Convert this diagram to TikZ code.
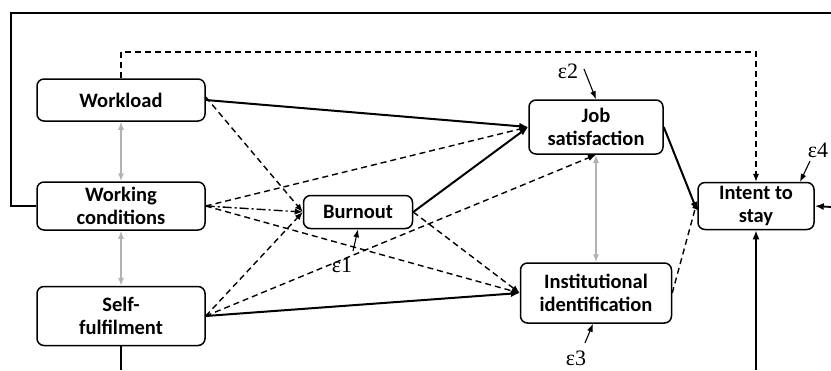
\documentclass[tikz,border=0pt]{standalone}
\usepackage{fontspec}
\setsansfont{Carlito}
\newfontfamily\epsfont{Liberation Serif}
\usetikzlibrary{arrows.meta}

\tikzset{
  box/.style={rectangle,rounded corners=7pt,draw,line width=1.5pt,align=center,inner sep=0pt,
    font=\sffamily\bfseries\fontsize{20.5}{22.5}\selectfont},
  eff/.style={-{Latex[length=9pt,width=7pt]},line width=2pt},
  ns/.style={-{Latex[length=8pt,width=6.5pt]},line width=1.4pt,dash pattern=on 6pt off 4pt},
  nsdot/.style={-{Latex[length=8pt,width=6.5pt]},line width=1.4pt,dash pattern=on 9pt off 3pt on 2pt off 3pt},
  cov/.style={{Latex[length=8pt,width=6pt]}-{Latex[length=8pt,width=6pt]},line width=1.3pt,gray!60},
  err/.style={-{Latex[length=8pt,width=6pt]},line width=1.1pt},
  eps/.style={font=\epsfont\fontsize{22}{24}\selectfont,inner sep=1pt}
}

\begin{document}
\begin{tikzpicture}[x=1pt,y=-1pt]
\useasboundingbox (0,0) rectangle (831,370);
\path (121,100) node[box,minimum width=168pt,minimum height=42pt](Workload) {Workload}
(121,206) node[box,minimum width=168pt,minimum height=48pt](WorkCond) {Working\\conditions}
(121,316) node[box,minimum width=168pt,minimum height=59pt](SelfFul) {Self-\\fulfilment}
(358,212) node[box,minimum width=109pt,minimum height=33pt](Burnout) {Burnout}
(596,127) node[box,minimum width=134pt,minimum height=54pt](JobSat) {Job\\satisfaction}
(596,293) node[box,minimum width=151pt,minimum height=60pt](InstId) {Institutional\\identification}
(756,206) node[box,minimum width=116pt,minimum height=47pt](Intent) {Intent to\\stay}
;
% error terms
\path (568,71) node[eps](e2) {ε2}
(342,265) node[eps](e1) {ε1}
(576,358) node[eps](e3) {ε3}
(818,150) node[eps](e4) {ε4}
;
% frame lines running off the picture
\coordinate (frameL) at (11,206);
\coordinate (frameTL) at (11,13);
\coordinate (frameTR) at (831,13);
\coordinate (rightIn) at (831,207);
\coordinate (sfDown) at (121,370);
\coordinate (itsUp) at (756,370);
\coordinate (topL) at (121,52);
\coordinate (topR) at (756,52);

\draw[line width=1.8pt] (WorkCond.west) -- (frameL) -- (frameTL) -- (frameTR);
\draw[eff,line width=1.8pt] (rightIn) -- (Intent.east);
\draw[line width=1.8pt] (SelfFul.south) -- (sfDown);
\draw[eff,line width=1.8pt] (itsUp) -- (Intent.south);
\draw[ns] (Workload.north) -- (topL) -- (topR) -- (Intent.north);

% correlations
\draw[cov] (Workload) -- (WorkCond);
\draw[cov] (WorkCond) -- (SelfFul);
\draw[cov] (JobSat) -- (InstId);

% paths
\draw[eff] (Workload.east) -- (JobSat.west);
\draw[ns] ([yshift=3pt]Workload.east) -- (Burnout.west);
\draw[ns] (WorkCond.east) -- (JobSat.west);
\draw[nsdot] (WorkCond.east) -- (Burnout.west);
\draw[ns] (WorkCond.east) -- (InstId.west);
\draw[ns] (SelfFul.east) -- (Burnout.west);
\draw[ns] (SelfFul.east) -- (JobSat.south);
\draw[eff] (SelfFul.east) -- (InstId.west);
\draw[eff] (Burnout.east) -- (JobSat.west);
\draw[ns] (Burnout.east) -- (InstId.west);
\draw[eff] (JobSat.east) -- ([yshift=-5pt]Intent.west);
\draw[ns] (InstId.east) -- ([yshift=5pt]Intent.west);

% errors
\draw[err] (584,69) -- (JobSat.north);
\draw[err] (353,251) -- (Burnout.south);
\draw[err] (585,343) -- ([xshift=-3pt]InstId.south);
\draw[err] (810,161) -- (800,182);
\end{tikzpicture}
\end{document}
